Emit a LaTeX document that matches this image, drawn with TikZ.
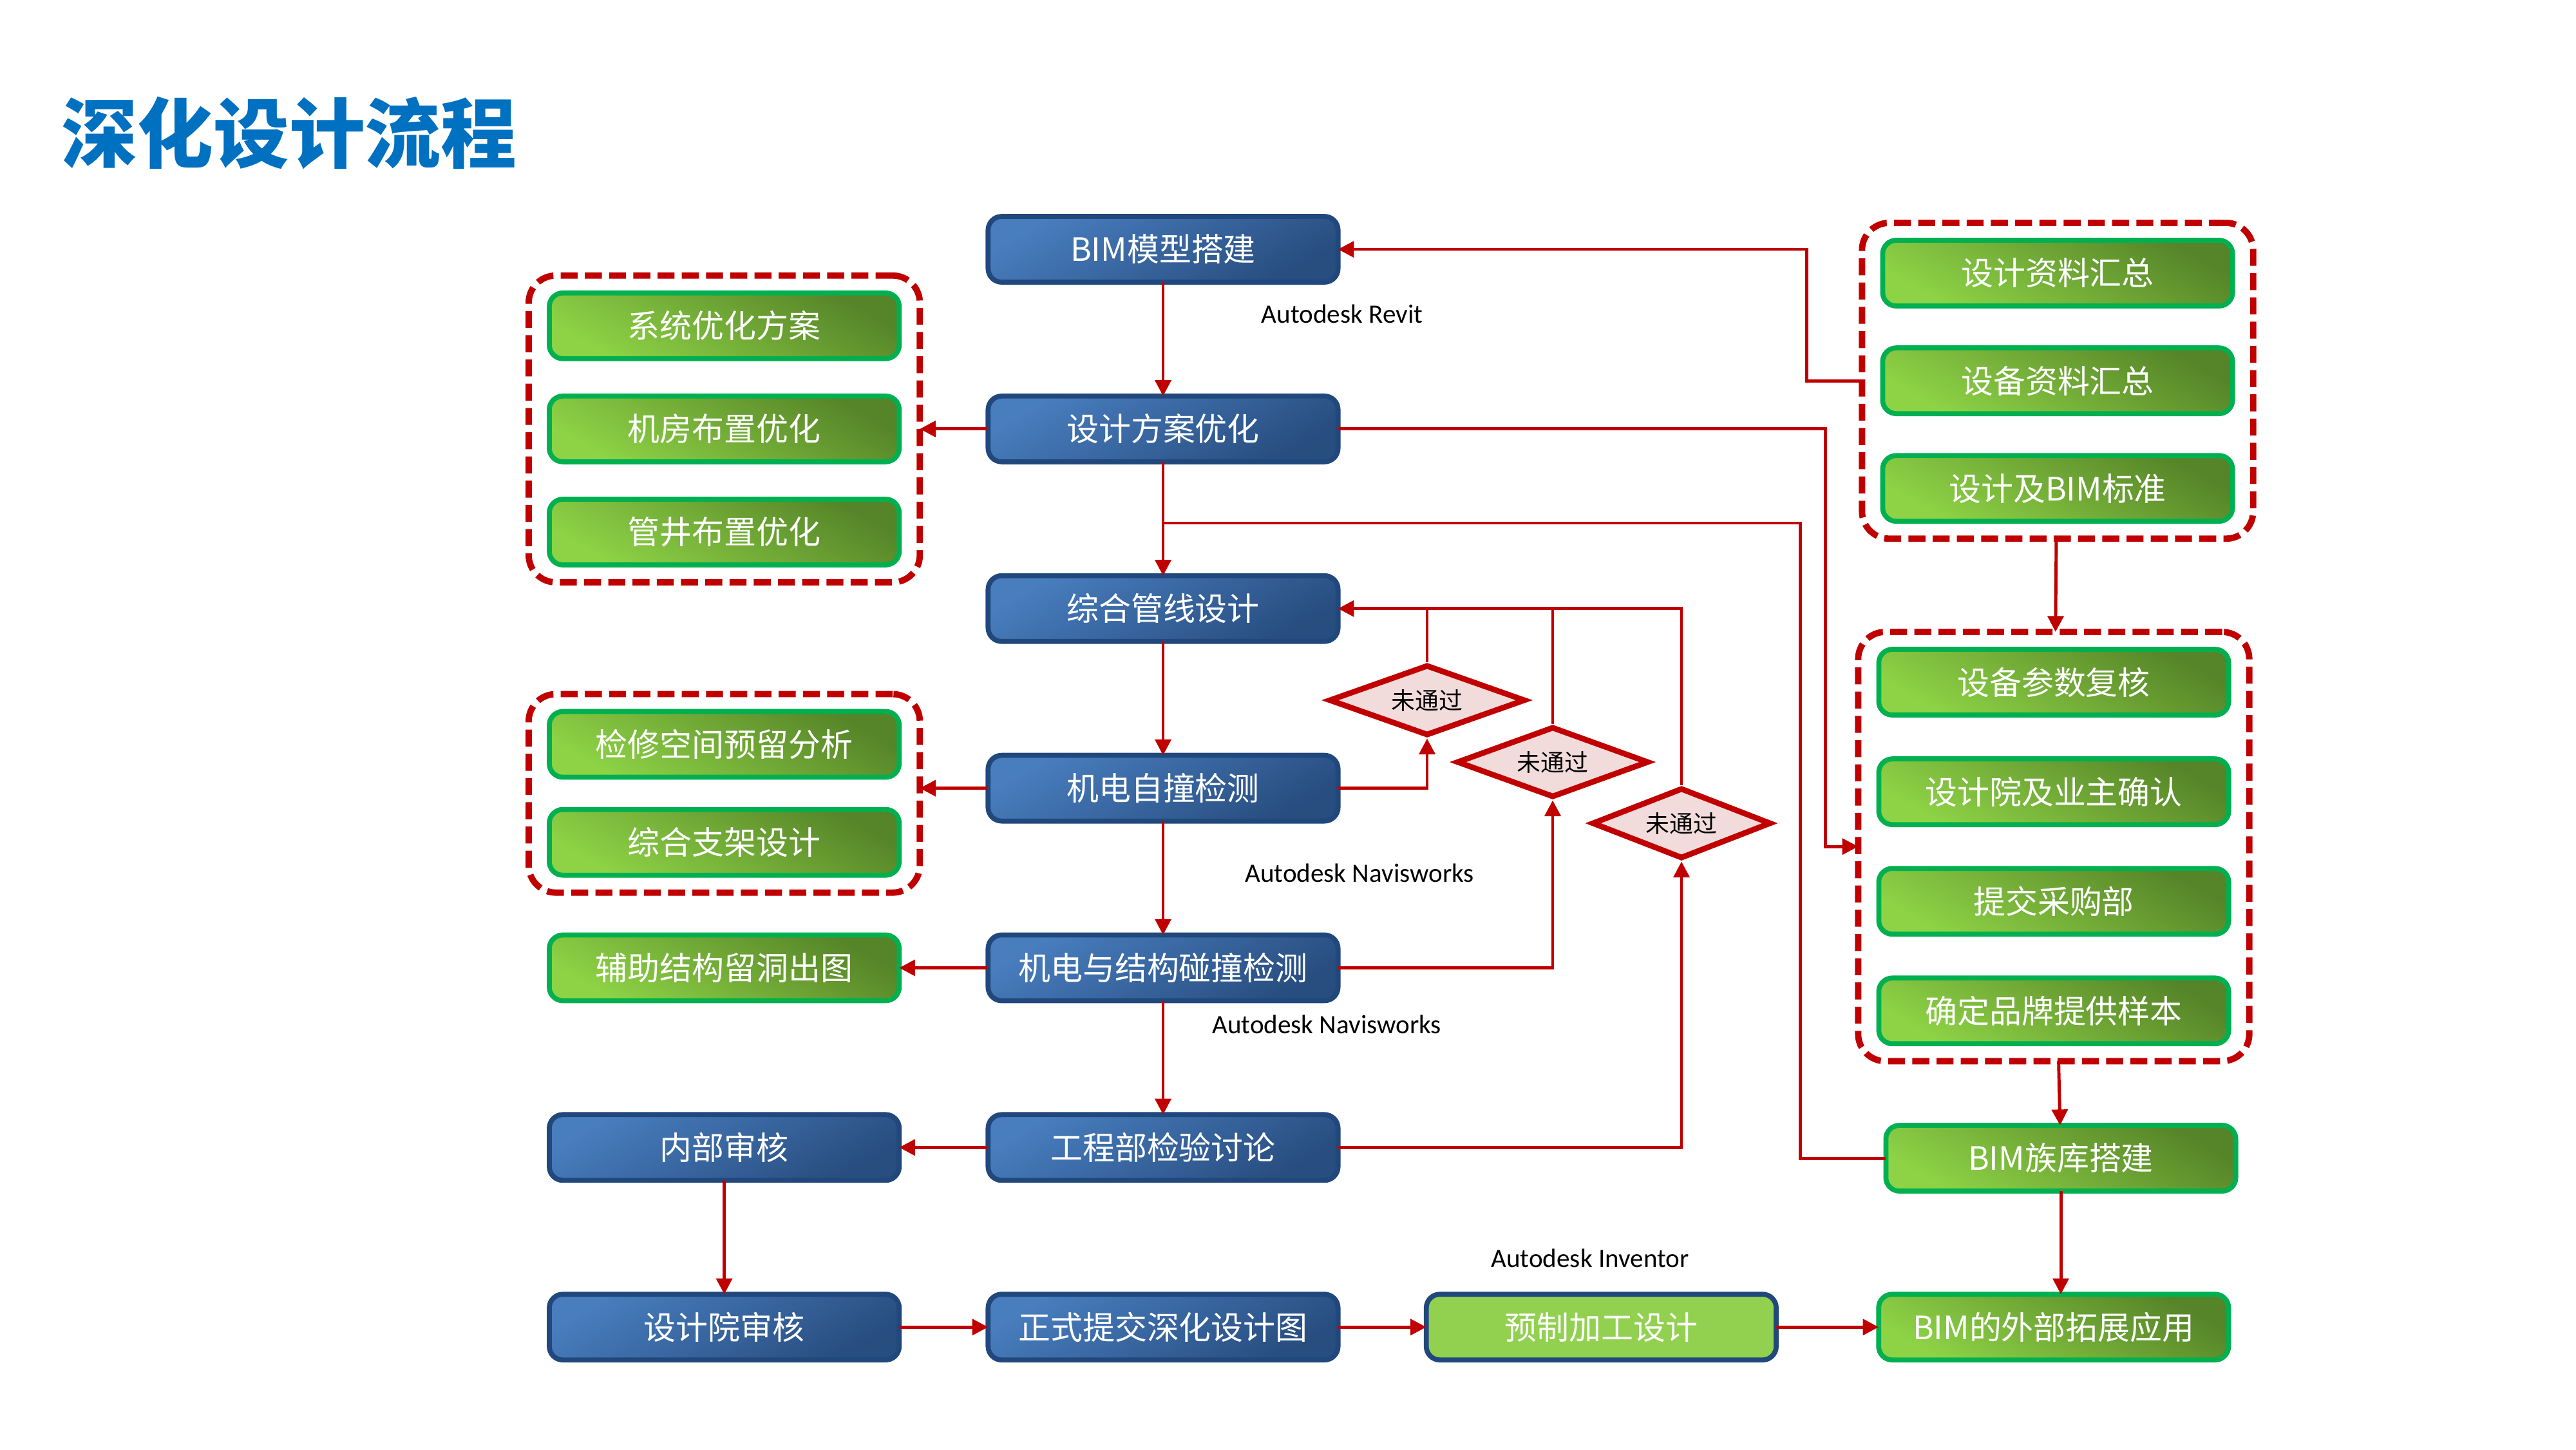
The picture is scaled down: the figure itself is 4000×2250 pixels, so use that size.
\documentclass[tikz,border=0pt]{standalone}
\usepackage{fontspec}
\setmainfont{Noto Sans CJK SC}
\newfontfamily\latinfont{Carlito}
\usetikzlibrary{positioning,calc,fit,shapes.geometric,arrows.meta}
\definecolor{flowred}{RGB}{192,0,0}
\definecolor{blueLight}{RGB}{72,125,190}
\definecolor{blueDark}{RGB}{40,77,127}
\definecolor{blueEdge}{RGB}{33,72,124}
\definecolor{greenLight}{RGB}{142,211,70}
\definecolor{greenDark}{RGB}{86,132,40}
\definecolor{greenEdge}{RGB}{0,176,80}
\definecolor{prefabFill}{RGB}{146,208,80}
\definecolor{checkFill}{RGB}{242,220,219}
\definecolor{titleBlue}{RGB}{0,112,192}
\tikzset{
	x=0.01cm, y=-0.01cm, % one unit is one pixel of the slide, y runs downwards
	node distance = 1.767cm and 1.38cm, % gap between boxes of the main line and to the side columns
	box/.style = {rectangle, rounded corners=6pt, line width=2.2pt, outer sep=0pt, minimum width=5.43cm, minimum height=1.02cm, text=white, font=\fontsize{14.2}{16}\selectfont},
	blue box/.style = {box, draw=blueEdge, top color=blueLight, bottom color=blueDark, shading angle=30},
	green box/.style = {box, draw=greenEdge, top color=greenDark, bottom color=greenLight, shading angle=-30},
	check/.style = {diamond, aspect=3, draw=flowred, fill=checkFill, line width=2.5pt, inner sep=0pt, minimum height=1.1cm, font=\fontsize{10.5}{12}\selectfont}, % the "not passed" decisions
	group/.style = {draw=flowred, rounded corners=12pt, line width=2.8pt, outer sep=0pt, dash pattern=on 7.5pt off 3.2pt, inner xsep=0.32cm, inner ysep=0.27cm},
	flow/.style = {draw=flowred, line width=1.4pt, -{Triangle[length=7pt,width=7pt]}},
	link/.style = {draw=flowred, line width=1.4pt},
	tool/.style = {font=\latinfont\fontsize{11.7}{13}\selectfont}
}

\begin{document}
\begin{tikzpicture}
	\useasboundingbox (0,0) rectangle (4000,2250);
	\node[font=\bfseries\fontsize{33.5}{36}\selectfont, text=titleBlue] (title) at (449,207) {深化设计流程};
	% main line
	\node[blue box] (bim) at (1806,387) {BIM模型搭建};
	\node[blue box, below=of bim] (scheme) {设计方案优化};
	\node[blue box, below=of scheme] (pipe) {综合管线设计};
	\node[blue box, below=of pipe] (self) {机电自撞检测};
	\node[blue box, below=of self] (clash) {机电与结构碰撞检测};
	\node[blue box, below=of clash] (review) {工程部检验讨论};
	\node[blue box, below=of review] (submit) {正式提交深化设计图};
	% left column
	\node[green box, left=of scheme] (room) {机房布置优化};
	\node[green box, above=0.58cm of room] (system) {系统优化方案};
	\node[green box, below=0.58cm of room] (shaft) {管井布置优化};
	\node[green box, left=of self, yshift=0.68cm] (space) {检修空间预留分析};
	\node[green box, below=0.5cm of space] (support) {综合支架设计};
	\node[green box, left=of clash] (holes) {辅助结构留洞出图};
	\node[blue box, left=of review] (internal) {内部审核};
	\node[blue box, left=of submit] (institute) {设计院审核};
	% bottom row
	\node[box, draw=blueEdge, fill=prefabFill, right=1.37cm of submit] (prefab) {预制加工设计};
	\node[green box, right=1.59cm of prefab] (expand) {BIM的外部拓展应用};
	% right column
	\node[green box] (docs) at (3195,424) {设计资料汇总};
	\node[green box, below=0.65cm of docs] (equip) {设备资料汇总};
	\node[green box, below=0.65cm of equip] (standard) {设计及BIM标准};
	\node[green box] (param) at (3189,1059) {设备参数复核};
	\node[green box, below=0.68cm of param] (confirm) {设计院及业主确认};
	\node[green box, below=0.68cm of confirm] (purchase) {提交采购部};
	\node[green box, below=0.68cm of purchase] (sample) {确定品牌提供样本};
	\node[green box] (family) at (3200,1798) {BIM族库搭建};
	% dashed groups
	\node[group, fit=(system)(shaft)] (grp1) {};
	\node[group, fit=(space)(support)] (grp2) {};
	\node[group, fit=(docs)(standard)] (grpA) {};
	\node[group, fit=(param)(sample)] (grpB) {};
	% decisions
	\node[check, minimum width=3.05cm] (d1) at (2216,1087) {未通过};
	\node[check, minimum width=2.98cm] (d2) at (2411,1183) {未通过};
	\node[check, minimum width=2.78cm] (d3) at (2611,1278) {未通过};
	% software
	\node[tool] (revit) at (2084,487) {Autodesk Revit};
	\node[tool] (navis1) at (2111,1355) {Autodesk Navisworks};
	\node[tool] (navis2) at (2060,1590) {Autodesk Navisworks};
	\node[tool] (inventor) at (2469,1953) {Autodesk Inventor};
	\coordinate (split) at ([yshift=-0.95cm]scheme.south);
	% connectors
	\draw[flow] (bim) -- (scheme);
	\draw[flow] (scheme) -- (pipe);
	\draw[flow] (pipe) -- (self);
	\draw[flow] (self) -- (clash);
	\draw[flow] (clash) -- (review);
	\draw[flow] (scheme.west) -- (scheme.west -| grp1.east);
	\draw[flow] (self.west) -- (self.west -| grp2.east);
	\draw[flow] (clash) -- (holes);
	\draw[flow] (review) -- (internal);
	\draw[flow] (internal) -- (institute);
	\draw[flow] (institute) -- (submit);
	\draw[flow] (submit) -- (prefab);
	\draw[flow] (prefab) -- (expand);
	\draw[flow] (equip -| grpA.west) -- ++(-86,0) |- (bim.east);
	\draw[flow] (scheme.east) -- ++(757,0) |- (grpB.west);
	\draw[link] (split) -- ++(989,0) |- (family.west);
	\draw[flow] (grpA) -- (grpB);
	\draw[flow] (grpB) -- (family);
	\draw[flow] (family.south) -- (family.south |- expand.north);
	\draw[flow] (self.east) -| (d1.south);
	\draw[flow] (clash.east) -| (d2.south);
	\draw[flow] (review.east) -| (d3.south);
	\draw[flow] (d3.north) |- (pipe.east);
	\draw[link] (d1.north) -- (d1.north |- pipe.east);
	\draw[link] (d2.north) -- (d2.north |- pipe.east);
\end{tikzpicture}
\end{document}
